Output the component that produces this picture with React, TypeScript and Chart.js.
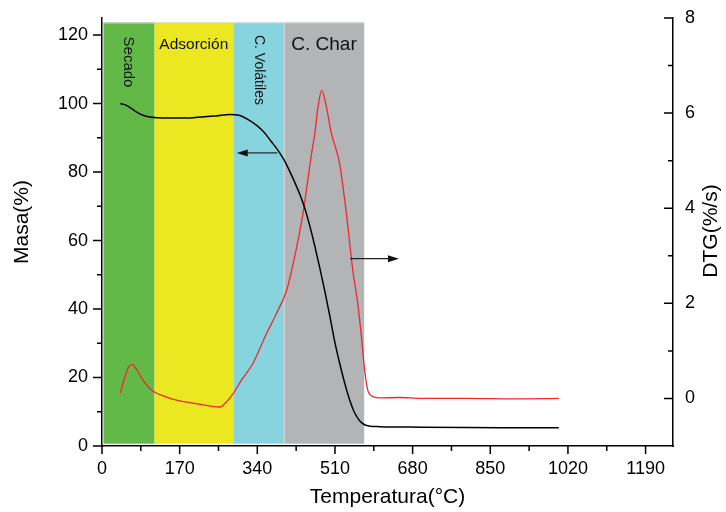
import React, { useEffect, useRef } from "react";
import { Chart, registerables } from "chart.js";

Chart.register(...registerables);

// ---- data ----
const massTemp = [40, 50, 60, 75, 90, 105, 120, 150, 200, 250, 280, 300, 320, 340, 350, 360, 370, 380, 389, 400, 411, 422, 433, 444, 455, 466, 477, 488, 499, 509, 520, 531, 542, 553, 564, 575, 586, 608, 700, 800, 900, 1000];
const massValues = [100.0, 99.7, 99.0, 97.6, 96.6, 96.1, 95.9, 95.8, 95.9, 96.4, 96.8, 96.6, 95.3, 93.5, 92.3, 90.8, 89.0, 87.3, 85.6, 83.2, 80.2, 77.0, 73.5, 69.4, 64.2, 58.3, 51.9, 45.1, 37.8, 30.8, 24.3, 18.5, 13.5, 9.7, 7.4, 6.2, 5.8, 5.65, 5.5, 5.4, 5.35, 5.3];

const dtgTemp = [40, 50, 58, 66, 75, 90, 112, 141, 170, 199, 225, 243, 258, 272, 287, 305, 330, 360, 380, 404, 420, 440, 458, 466, 473, 481, 491, 502, 513, 520, 535, 549, 560, 568, 575, 582, 593, 608, 650, 700, 800, 900, 1000];
const dtgValues = [0.11, 0.45, 0.66, 0.71, 0.62, 0.38, 0.15, 0.03, -0.05, -0.10, -0.14, -0.17, -0.18, -0.08, 0.10, 0.38, 0.73, 1.36, 1.75, 2.27, 2.9, 3.89, 5.10, 5.58, 6.14, 6.48, 6.14, 5.58, 5.22, 4.95, 3.89, 2.70, 1.99, 1.29, 0.59, 0.17, 0.04, 0.01, 0.02, 0.0, 0.0, -0.01, 0.0];

const xTicks = [0, 170, 340, 510, 680, 850, 1020, 1190];
const xMinorTicks = [85, 255, 425, 595, 765, 935, 1105];
const yTicks = [0, 20, 40, 60, 80, 100, 120];
const yMinorTicks = [10, 30, 50, 70, 90, 110];
const y2Ticks = [0, 2, 4, 6, 8];
const y2MinorTicks = [1, 3, 5, 7];

const bandNames = ["Secado", "Adsorción", "C. Volátiles", "C. Char"];
const bandStart = [0, 115, 287, 398];
const bandEnd = [115, 287, 398, 574];
const bandColors = ["#63b947", "#ebe821", "#87d3de", "#b2b4b5"];

// arrows: [x from, x to, value] ; first on mass axis, second on DTG axis
const massArrow = [384, 295, 85.6];
const dtgArrow = [543, 650, 2.94];

const FONT = "'Liberation Sans', Arial, Helvetica, sans-serif";

const bandsPlugin = {
  id: "bands",
  beforeDatasetsDraw(chart: any) {
    const { ctx, chartArea, scales } = chart;
    const x = scales.x;
    const top = chartArea.top + 4.5;
    const bottom = chartArea.bottom - 2.3;
    ctx.save();
    bandNames.forEach((_, i) => {
      const x0 = x.getPixelForValue(bandStart[i]) + (i === 0 ? 1.5 : 0);
      const x1 = x.getPixelForValue(bandEnd[i]);
      ctx.fillStyle = bandColors[i];
      ctx.fillRect(x0, top, x1 - x0, bottom - top);
    });
    ctx.strokeStyle = "#d2d2d2";
    ctx.lineWidth = 1;
    ctx.beginPath();
    bandNames.forEach((_, i) => {
      if (i < 3) {
        const xb = Math.round(x.getPixelForValue(bandEnd[i])) + 0.5;
        ctx.moveTo(xb, top);
        ctx.lineTo(xb, bottom);
      }
    });
    ctx.moveTo(x.getPixelForValue(bandStart[0]) + 1.5, top + 0.5);
    ctx.lineTo(x.getPixelForValue(bandEnd[3]), top + 0.5);
    ctx.stroke();

    ctx.fillStyle = "#111";
    ctx.textAlign = "center";
    ctx.textBaseline = "middle";
    const cx = (i: number) => x.getPixelForValue((bandStart[i] + bandEnd[i]) / 2);
    ctx.save();
    ctx.font = `15px ${FONT}`;
    ctx.translate(cx(0), chartArea.top + 44);
    ctx.rotate(Math.PI / 2);
    ctx.fillText(bandNames[0], 0, 0);
    ctx.restore();
    ctx.font = `15.5px ${FONT}`;
    ctx.fillText(bandNames[1], cx(1), chartArea.top + 27);
    ctx.save();
    ctx.font = `14px ${FONT}`;
    ctx.translate(cx(2), chartArea.top + 52);
    ctx.rotate(Math.PI / 2);
    ctx.fillText(bandNames[2], 0, 0);
    ctx.restore();
    ctx.font = `19px ${FONT}`;
    ctx.fillText(bandNames[3], cx(3), chartArea.top + 27);
    ctx.restore();
  },
};

function drawArrow(ctx: any, xFrom: number, xTo: number, y: number) {
  const dir = Math.sign(xTo - xFrom);
  const headLen = 11;
  ctx.beginPath();
  ctx.moveTo(xFrom, y);
  ctx.lineTo(xTo - dir * headLen, y);
  ctx.stroke();
  ctx.beginPath();
  ctx.moveTo(xTo, y);
  ctx.lineTo(xTo - dir * headLen, y - 3.5);
  ctx.lineTo(xTo - dir * headLen, y + 3.5);
  ctx.closePath();
  ctx.fill();
}

const decoPlugin = {
  id: "deco",
  afterDraw(chart: any) {
    const { ctx, chartArea, scales } = chart;
    const { left, right, bottom } = chartArea;
    const x = scales.x, y = scales.y, y2 = scales.y2;
    ctx.save();
    ctx.strokeStyle = "#222";
    ctx.fillStyle = "#111";
    ctx.lineWidth = 1.2;
    drawArrow(ctx, x.getPixelForValue(massArrow[0]), x.getPixelForValue(massArrow[1]), y.getPixelForValue(massArrow[2]));
    drawArrow(ctx, x.getPixelForValue(dtgArrow[0]), x.getPixelForValue(dtgArrow[1]), y2.getPixelForValue(dtgArrow[2]));

    ctx.strokeStyle = "#000";
    ctx.lineWidth = 1.5;
    ctx.beginPath();
    xTicks.forEach((v) => { const p = x.getPixelForValue(v); ctx.moveTo(p, bottom); ctx.lineTo(p, bottom + 8); });
    xMinorTicks.forEach((v) => { const p = x.getPixelForValue(v); ctx.moveTo(p, bottom); ctx.lineTo(p, bottom + 5); });
    yTicks.forEach((v) => { const p = y.getPixelForValue(v); ctx.moveTo(left, p); ctx.lineTo(left - 9, p); });
    yMinorTicks.forEach((v) => { const p = y.getPixelForValue(v); ctx.moveTo(left, p); ctx.lineTo(left - 5, p); });
    y2Ticks.forEach((v) => { const p = y2.getPixelForValue(v); ctx.moveTo(right, p); ctx.lineTo(right - 9, p); });
    y2MinorTicks.forEach((v) => { const p = y2.getPixelForValue(v); ctx.moveTo(right, p); ctx.lineTo(right - 5, p); });
    ctx.stroke();

    ctx.fillStyle = "#000";
    ctx.font = `21px ${FONT}`;
    ctx.textAlign = "center";
    ctx.textBaseline = "middle";
    ctx.fillText("Temperatura(°C)", (left + right) / 2, 497);
    ctx.save();
    ctx.translate(22, 222);
    ctx.rotate(-Math.PI / 2);
    ctx.fillText("Masa(%)", 0, 0);
    ctx.restore();
    ctx.save();
    ctx.translate(711, 231);
    ctx.rotate(-Math.PI / 2);
    ctx.fillText("DTG(%/s)", 0, 0);
    ctx.restore();
    ctx.restore();
  },
};

export default function App() {
  const canvasRef = useRef<HTMLCanvasElement | null>(null);

  useEffect(() => {
    document.body.style.margin = "0";
    const canvas = canvasRef.current;
    if (!canvas) return;
    const tickFont = { family: FONT, size: 18 };
    const plain = (v: any) => String(v);
    const fitV = (w: number) => (s: any) => { s.width = w; s.paddingTop = 0; s.paddingBottom = 0; };
    const chart = new Chart(canvas, {
      type: "line",
      data: {
        datasets: [
          {
            label: "Masa",
            data: massTemp.map((t, i) => ({ x: t, y: massValues[i] })),
            borderColor: "#000000",
            borderWidth: 1.5,
            pointRadius: 0,
            cubicInterpolationMode: "monotone",
            yAxisID: "y",
          },
          {
            label: "DTG",
            data: dtgTemp.map((t, i) => ({ x: t, y: dtgValues[i] })),
            borderColor: "#f0282d",
            borderWidth: 1.3,
            pointRadius: 0,
            cubicInterpolationMode: "monotone",
            yAxisID: "y2",
          },
        ],
      },
      options: {
        animation: false,
        responsive: false,
        maintainAspectRatio: false,
        devicePixelRatio: 1,
        layout: { padding: { top: 18, left: 0, right: 0, bottom: 0 } },
        plugins: { legend: { display: false }, tooltip: { enabled: false } },
        scales: {
          x: {
            type: "linear",
            position: "bottom",
            min: 0,
            max: 1250,
            afterBuildTicks: (s: any) => { s.ticks = xTicks.map((v) => ({ value: v })); },
            afterFit: (s: any) => { s.height = 66; s.paddingLeft = 0; s.paddingRight = 0; },
            grid: { display: false, drawTicks: false },
            border: { display: true, color: "#000", width: 1.5 },
            ticks: { padding: 12, font: tickFont, color: "#000", maxRotation: 0, autoSkip: false, callback: plain },
          },
          y: {
            type: "linear",
            position: "left",
            min: 0,
            max: 125,
            afterBuildTicks: (s: any) => { s.ticks = yTicks.map((v) => ({ value: v })); },
            afterFit: fitV(102),
            grid: { display: false, drawTicks: false },
            border: { display: true, color: "#000", width: 1.5 },
            ticks: { padding: 14, font: tickFont, color: "#000", callback: plain },
          },
          y2: {
            type: "linear",
            position: "right",
            min: -1,
            max: 8,
            afterBuildTicks: (s: any) => { s.ticks = y2Ticks.map((v) => ({ value: v })); },
            afterFit: fitV(53),
            grid: { display: false, drawTicks: false },
            border: { display: true, color: "#000", width: 1.5 },
            ticks: { padding: 12, font: tickFont, color: "#000", callback: plain },
          },
        },
      } as any,
      plugins: [bandsPlugin, decoPlugin],
    });
    return () => chart.destroy();
  }, []);

  return (
    <div style={{ width: 726, height: 512, background: "#fff" }}>
      <canvas ref={canvasRef} width={726} height={512} style={{ width: 726, height: 512, display: "block" }} />
    </div>
  );
}
